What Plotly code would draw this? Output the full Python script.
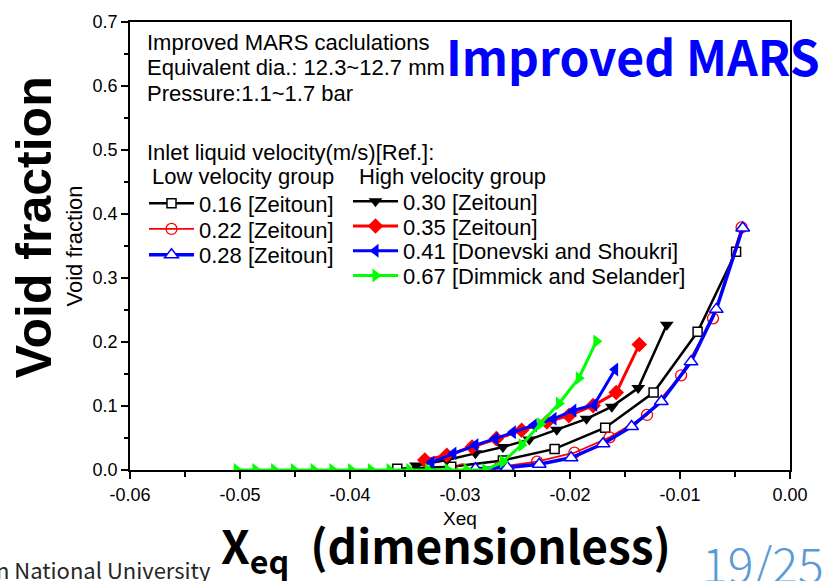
import plotly.graph_objects as go

# ---------------- data ----------------
x_016 = [-0.0357, -0.0308, -0.0261, -0.0214, -0.0168, -0.0124, -0.0084, -0.0049]
y_016 = [0.002, 0.005, 0.015, 0.033, 0.066, 0.121, 0.216, 0.341]

x_022 = [-0.0298, -0.0264, -0.0230, -0.0196, -0.0164, -0.0130, -0.0099, -0.0070, -0.0044]
y_022 = [0.001, 0.005, 0.013, 0.027, 0.051, 0.086, 0.148, 0.237, 0.379]

x_028 = [-0.0286, -0.0257, -0.0228, -0.0199, -0.0170, -0.0144, -0.0117, -0.0090, -0.0067, -0.0043]
y_028 = [0.002, 0.004, 0.009, 0.019, 0.041, 0.068, 0.107, 0.169, 0.251, 0.378]

x_030 = [-0.0340, -0.0312, -0.0286, -0.0261, -0.0237, -0.0212, -0.0185, -0.0162, -0.0138, -0.0112]
y_030 = [0.007, 0.0155, 0.026, 0.036, 0.0475, 0.063, 0.080, 0.099, 0.128, 0.227]

x_035 = [-0.0332, -0.0312, -0.0289, -0.0267, -0.0244, -0.0221, -0.0201, -0.0179, -0.0158, -0.0137]
y_035 = [0.0155, 0.023, 0.036, 0.049, 0.062, 0.075, 0.085, 0.1006, 0.121, 0.196]

x_041 = [-0.0326, -0.0306, -0.0286, -0.0268, -0.0252, -0.0233, -0.0215, -0.0197, -0.0178, -0.0159]
y_041 = [0.012, 0.026, 0.039, 0.049, 0.059, 0.070, 0.080, 0.093, 0.102, 0.157]

x_067 = [-0.0503, -0.0486, -0.0469, -0.0451, -0.0433, -0.0416, -0.0399, -0.0381, -0.0364, -0.0346,
         -0.0329, -0.0311, -0.0294, -0.0277, -0.0261, -0.0244, -0.0227, -0.0210, -0.0192, -0.0176]
y_067 = [0, 0, 0, 0, 0, 0, 0, 0, 0, 0,
         0, 0, 0, 0, 0.013, 0.039, 0.072, 0.104, 0.1435, 0.201]

x_tick_vals = [-0.06, -0.05, -0.04, -0.03, -0.02, -0.01, 0.0]
x_tick_text = ["-0.06", "-0.05", "-0.04", "-0.03", "-0.02", "-0.01", "0.00"]
y_tick_vals = [0.0, 0.1, 0.2, 0.3, 0.4, 0.5, 0.6, 0.7]
y_tick_text = ["0.0", "0.1", "0.2", "0.3", "0.4", "0.5", "0.6", "0.7"]

# ---------------- layout helpers ----------------
W, H = 825, 581
L, R, T, B = 130, 35, 18, 111
PW, PH = W - L - R, H - T - B


def px(x):
    return (x - L) / PW


def py(y):
    return (H - B - y) / PH


ARIAL = "Liberation Sans, Arial, sans-serif"
KR = "Noto Sans CJK KR, Noto Sans, sans-serif"
GREEN = "#00ff00"

fig = go.Figure()

# (x, y, name, line colour, line width, marker, legend x(px), legend row y(px))
series = [
    (x_016, y_016, "0.16 [Zeitoun]", "black", 2.5,
     dict(symbol="square", size=9, color="white", line=dict(color="black", width=1.5)), 144, 201),
    (x_022, y_022, "0.22 [Zeitoun]", "red", 1.8,
     dict(symbol="circle-open", size=11, color="red", line=dict(color="red", width=1.3)), 144, 227),
    (x_028, y_028, "0.28 [Zeitoun]", "blue", 3.5,
     dict(symbol="triangle-up", size=12, color="white", line=dict(color="blue", width=1.5)), 144, 253),
    (x_030, y_030, "0.30 [Zeitoun]", "black", 2.5,
     dict(symbol="triangle-down", size=12, color="black"), 348, 199),
    (x_035, y_035, "0.35 [Zeitoun]", "red", 3,
     dict(symbol="diamond", size=12, color="red"), 348, 224),
    (x_041, y_041, "0.41 [Donevski and Shoukri]", "blue", 3,
     dict(symbol="triangle-left", size=12, color="blue"), 348, 249),
    (x_067, y_067, "0.67 [Dimmick and Selander]", GREEN, 3,
     dict(symbol="triangle-right", size=12, color=GREEN), 348, 274),
]

legend_layouts = {}
for i, (xs, ys, name, col, lw, mk, lx, ly) in enumerate(series):
    lid = "legend" if i == 0 else f"legend{i + 1}"
    fig.add_trace(go.Scatter(x=xs, y=ys, name=name, mode="lines+markers",
                             line=dict(color=col, width=lw), marker=mk, legend=lid))
    legend_layouts[lid] = dict(x=px(lx), y=py(ly), xanchor="left", yanchor="middle",
                               bgcolor="rgba(0,0,0,0)", borderwidth=0,
                               font=dict(family=ARIAL, size=22, color="black"),
                               itemwidth=45)

axis_common = dict(showline=True, linecolor="black", linewidth=1.8, showgrid=False, zeroline=False,
                   ticks="outside", tickcolor="black", tickwidth=1.5,
                   tickfont=dict(family=ARIAL, size=18, color="black"))

fig.update_layout(
    width=W, height=H, margin=dict(l=L, r=R, t=T, b=B),
    paper_bgcolor="white", plot_bgcolor="white",
    xaxis=dict(range=[-0.06, 0.0], tickvals=x_tick_vals, ticktext=x_tick_text, ticklen=7,
               minor=dict(ticks="outside", ticklen=5, dtick=0.005, tickcolor="black", tickwidth=1.5),
               mirror=True,
               title=dict(text="Xeq", font=dict(family=ARIAL, size=19, color="black"), standoff=8),
               **axis_common),
    yaxis=dict(range=[0, 0.7], tickvals=y_tick_vals, ticktext=y_tick_text, ticklen=7,
               minor=dict(ticks="outside", ticklen=4, dtick=0.05, tickcolor="black", tickwidth=1.5),
               mirror=True,
               title=dict(text="Void fraction", font=dict(family=ARIAL, size=22, color="black"), standoff=4),
               **axis_common),
    yaxis2=dict(range=[0, 0.7], overlaying="y", side="right", anchor="x", dtick=0.05,
                ticks="inside", ticklen=7, tickwidth=1.5, tickcolor="black",
                showticklabels=False, showline=True, linecolor="black", linewidth=1.8,
                showgrid=False, zeroline=False),
    showlegend=True,
    **legend_layouts,
)

notes = [
    ("Improved MARS caclulations", 145, 39),
    ("Equivalent dia.: 12.3~12.7 mm", 145, 64),
    ("Pressure:1.1~1.7 bar", 145, 90),
    ("Inlet liquid velocity(m/s)[Ref.]:", 145, 150),
    ("Low velocity group", 150, 174),
    ("High velocity group", 357, 174),
]
for txt, x0, y0 in notes:
    fig.add_annotation(text=txt, x=px(x0), y=py(y0), xref="paper", yref="paper",
                       xanchor="left", yanchor="middle", showarrow=False,
                       font=dict(family=ARIAL, size=22, color="black"))

fig.add_annotation(text="<b>Improved MARS</b>", x=px(444), y=py(51), xref="paper", yref="paper",
                   xanchor="left", yanchor="middle", showarrow=False,
                   font=dict(family=KR, size=48, color="#0000ff"))

fig.add_annotation(text="<b>Void fraction</b>", x=px(34), y=py(225), xref="paper", yref="paper",
                   xanchor="center", yanchor="middle", textangle=-90, showarrow=False,
                   font=dict(family=ARIAL, size=50, color="black"))

fig.add_annotation(text="<b>X<sub>eq</sub>  (dimensionless)</b>", x=px(446), y=py(548), xref="paper", yref="paper",
                   xanchor="center", yanchor="middle", showarrow=False,
                   font=dict(family=KR, size=46, color="black"))

fig.add_annotation(text="19/25", x=px(700), y=py(563), xref="paper", yref="paper",
                   xanchor="left", yanchor="middle", showarrow=False,
                   font=dict(family="Noto Sans CJK KR Light, Noto Sans CJK KR, sans-serif", size=48, color="#5b9bd5"))

fig.add_annotation(text="Pusan National University", x=px(213), y=py(570), xref="paper", yref="paper",
                   xanchor="right", yanchor="middle", showarrow=False,
                   font=dict(family=KR, size=22, color="#262626"))

fig.write_html("out.html")
